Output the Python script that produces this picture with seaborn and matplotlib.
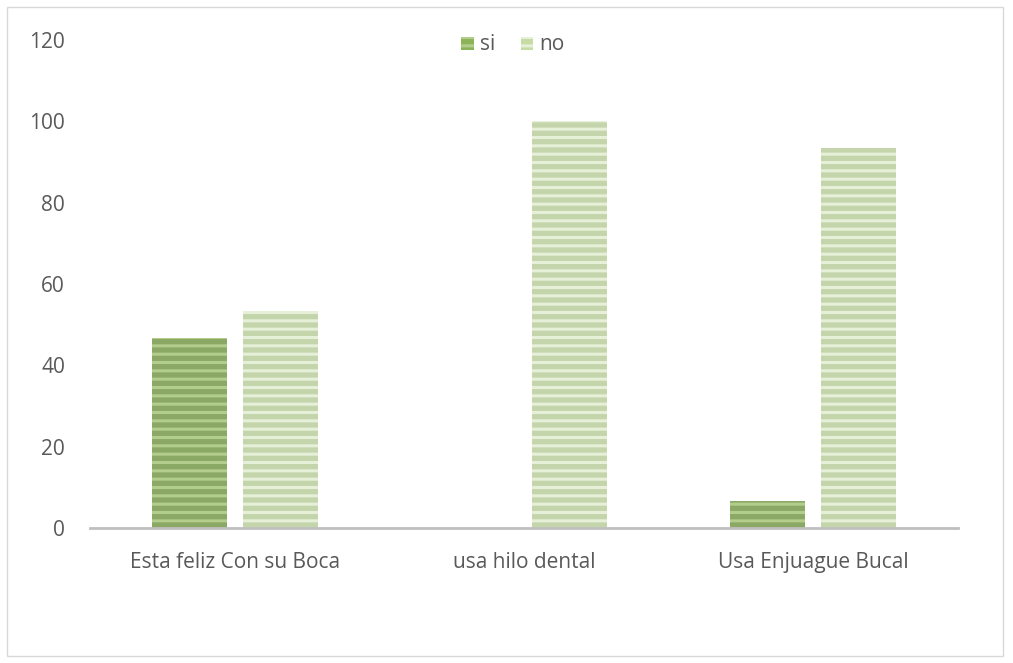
import matplotlib
matplotlib.use("Agg")
import matplotlib.pyplot as plt
import seaborn as sns
import pandas as pd
from matplotlib.patches import Rectangle, Patch

categories = ["Esta feliz Con su Boca", "usa hilo dental", "Usa Enjuague Bucal"]
si_values = [46.67, 0, 6.67]
no_values = [53.33, 100, 93.33]
series = ["si", "no"]
yticks = [0, 20, 40, 60, 80, 100, 120]

df = pd.DataFrame({
    "cat": categories * 2,
    "serie": ["si"] * 3 + ["no"] * 3,
    "val": si_values + no_values,
})

sns.set_style("white")
plt.rcParams['font.family'] = ['Open Sans', 'DejaVu Sans']
plt.rcParams['hatch.linewidth'] = 2.2

fig = plt.figure(figsize=(10.13, 6.63), dpi=100)
ax = fig.add_axes([90/1013, 1-528/663, 868/1013, 488/663])

palette = {"si": "#8db359", "no": "#c6dca4"}
stripe = {"si": "#b3cd8c", "no": "#e6f0d9"}
sns.barplot(data=df, x="cat", y="val", hue="serie", hue_order=series,
            palette=palette, width=0.63, gap=0.176, ax=ax, legend=False)

for cont, s in zip(ax.containers, series):
    for bar in cont:
        bar.set_hatch("--")
        bar.set_edgecolor(stripe[s])
        bar.set_linewidth(0)

ax.set_xlim(-0.5, 2.5)
ax.set_ylim(0, 120)
ax.set_yticks(yticks)
ax.set_yticklabels([str(v) for v in yticks])
ax.set_xlabel("")
ax.set_ylabel("")
for sp in ["top", "right", "left"]:
    ax.spines[sp].set_visible(False)
ax.spines["bottom"].set_color("#bfbfbf")
ax.spines["bottom"].set_linewidth(2.0)
ax.tick_params(axis="y", length=0, pad=18, labelsize=15, labelcolor="#595959")
ax.tick_params(axis="x", length=0, pad=17, labelsize=15, labelcolor="#595959")

handles = [Patch(facecolor=palette[s], edgecolor=stripe[s], hatch="--", linewidth=0) for s in series]
leg = fig.legend(handles, series, loc="center", bbox_to_anchor=(513/1013, 1-45/663),
                 ncol=2, frameon=False, fontsize=15, handlelength=0.6, handleheight=0.6,
                 handletextpad=0.3, columnspacing=1.2)
for t in leg.get_texts():
    t.set_color("#595959")

fig.patches.append(Rectangle((7/1013, 7/663), 996/1013, 649/663, transform=fig.transFigure,
                             fill=False, edgecolor="#d9d9d9", linewidth=1))

fig.savefig("out.png", dpi=100)
